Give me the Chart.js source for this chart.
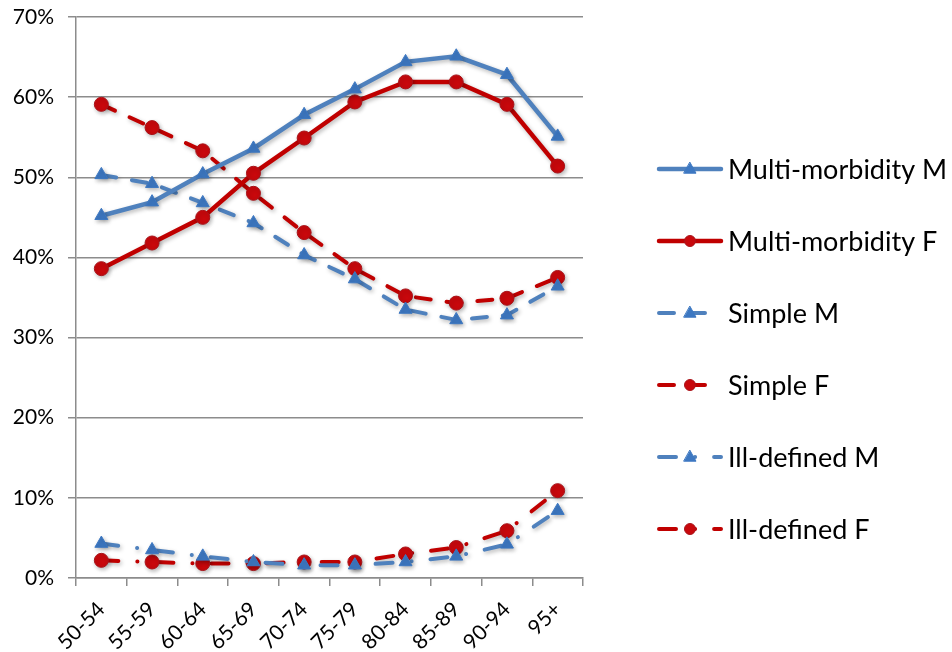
<!DOCTYPE html>
<html>
<head>
<meta charset="utf-8">
<script src="https://cdn.jsdelivr.net/npm/chart.js@4"></script>
<style>
  html, body { margin: 0; padding: 0; background: #fff; }
  #wrap { width: 952px; height: 652px; }
</style>
</head>
<body>
<div id="wrap"><canvas id="c" width="952" height="652"></canvas></div>
<script>
// Age groups
const ageGroups = ['50-54','55-59','60-64','65-69','70-74','75-79','80-84','85-89','90-94','95+'];

// Share of patients (%) by type of condition and sex
const multiM   = [45.2, 46.9, 50.4, 53.6, 57.8, 61.0, 64.4, 65.1, 62.8, 55.1];
const multiF   = [38.6, 41.8, 45.0, 50.5, 54.9, 59.4, 61.9, 61.9, 59.1, 51.4];
const simpleM  = [50.3, 49.2, 46.8, 44.3, 40.3, 37.3, 33.5, 32.2, 32.8, 36.4];
const simpleF  = [59.1, 56.2, 53.3, 48.0, 43.1, 38.6, 35.2, 34.3, 34.9, 37.5];
const illDefM  = [4.3, 3.5, 2.7, 2.0, 1.6, 1.6, 2.0, 2.7, 4.2, 8.4];
const illDefF  = [2.2, 2.0, 1.8, 1.8, 2.0, 2.0, 3.0, 3.8, 5.9, 10.9];

const yTicks = [0, 10, 20, 30, 40, 50, 60, 70];

const BLUE = '#4f81bd';
const BLUE_MK = '#3d78c2';
const RED = '#c00000';
const RED_MK = '#c8080c';
const FONT = 'Lato, "Open Sans", sans-serif';

const SOLID = [];
const DASH = [15, 16];
const LONG_DASH_DOT = [17, 19, 0.1, 19];

function series(label, data, color, mk, style, dash) {
  return {
    label, data,
    borderColor: color,
    borderWidth: dash.length ? 4 : 4.5,
    borderDash: dash,
    borderCapStyle: 'round',
    pointStyle: style,
    pointRadius: style === 'triangle' ? 7.5 : 7,
    pointBackgroundColor: mk,
    pointBorderColor: style === 'triangle' ? mk : '#a8141a',
    pointBorderWidth: 1,
    tension: 0,
    fill: false
  };
}

const datasets = [
  series('Multi-morbidity M', multiM, BLUE, BLUE_MK, 'triangle', SOLID),
  series('Multi-morbidity F', multiF, RED, RED_MK, 'circle', SOLID),
  series('Simple M', simpleM, BLUE, BLUE_MK, 'triangle', DASH),
  series('Simple F', simpleF, RED, RED_MK, 'circle', DASH),
  series('Ill-defined M', illDefM, BLUE, BLUE_MK, 'triangle', LONG_DASH_DOT),
  series('Ill-defined F', illDefF, RED, RED_MK, 'circle', LONG_DASH_DOT)
];

// Soft drop shadow under lines and markers
const shadowPlugin = {
  id: 'shadow',
  beforeDatasetsDraw(chart) {
    const ctx = chart.ctx;
    ctx.save();
    ctx.shadowColor = 'rgba(0,0,0,0.28)';
    ctx.shadowBlur = 4;
    ctx.shadowOffsetX = 1.5;
    ctx.shadowOffsetY = 2;
  },
  afterDatasetsDraw(chart) {
    chart.ctx.restore();
  }
};

// Legend at right: line sample with marker, then series name
const sideLegend = {
  id: 'sideLegend',
  afterDraw(chart) {
    const ctx = chart.ctx;
    const x0 = 659, x1 = 721, xm = 690, tx = 728;
    const y0 = 169, step = 72;
    chart.data.datasets.forEach((ds, i) => {
      const y = y0 + i * step;
      ctx.save();
      ctx.strokeStyle = ds.borderColor;
      ctx.lineWidth = ds.borderWidth;
      ctx.lineCap = 'round';
      ctx.setLineDash(ds.borderDash || []);
      ctx.beginPath();
      ctx.moveTo(x0, y);
      ctx.lineTo(x1, y);
      ctx.stroke();
      ctx.setLineDash([]);
      ctx.lineWidth = 1;
      ctx.fillStyle = ds.pointBackgroundColor;
      ctx.strokeStyle = ds.pointBorderColor;
      ctx.beginPath();
      if (ds.pointStyle === 'circle') {
        ctx.arc(xm, y, 5.5, 0, Math.PI * 2);
      } else {
        const r = 6;
        ctx.moveTo(xm, y - r * 1.1);
        ctx.lineTo(xm + r, y + r * 0.7);
        ctx.lineTo(xm - r, y + r * 0.7);
        ctx.closePath();
      }
      ctx.fill();
      ctx.stroke();
      ctx.fillStyle = '#000';
      ctx.font = '27px ' + FONT;
      ctx.textBaseline = 'middle';
      ctx.textAlign = 'left';
      ctx.fillText(ds.label, tx, y + 1);
      ctx.restore();
    });
  }
};

new Chart(document.getElementById('c'), {
  type: 'line',
  data: { labels: ageGroups, datasets },
  plugins: [shadowPlugin, sideLegend],
  options: {
    responsive: false,
    animation: false,
    layout: { padding: { top: 17, right: 369, left: 0, bottom: 0 } },
    plugins: {
      legend: { display: false },
      tooltip: { enabled: false }
    },
    scales: {
      x: {
        offset: true,
        afterFit(s) {
          s.height = 74;
          s.paddingLeft = 0;
          s.paddingRight = 0;
        },
        grid: {
          offset: true,
          drawOnChartArea: false,
          drawTicks: true,
          tickLength: 8,
          color: '#8c8c8c',
          lineWidth: 1.5
        },
        border: { color: '#8c8c8c', width: 1.5 },
        ticks: {
          color: '#000',
          font: { family: FONT, size: 21 },
          maxRotation: 45,
          minRotation: 45,
          padding: 11,
          autoSkip: false
        }
      },
      y: {
        min: 0,
        max: 70,
        afterFit(s) {
          s.width = 76;
          s.paddingTop = 0;
          s.paddingBottom = 0;
        },
        afterBuildTicks(s) { s.ticks = yTicks.map(v => ({ value: v })); },
        grid: {
          color: '#8c8c8c',
          lineWidth: 1.5,
          tickLength: 8
        },
        border: { color: '#8c8c8c', width: 1.5 },
        ticks: {
          color: '#000',
          font: { family: FONT, size: 21 },
          padding: 14,
          callback: v => v + '%'
        }
      }
    }
  }
});
</script>
</body>
</html>
